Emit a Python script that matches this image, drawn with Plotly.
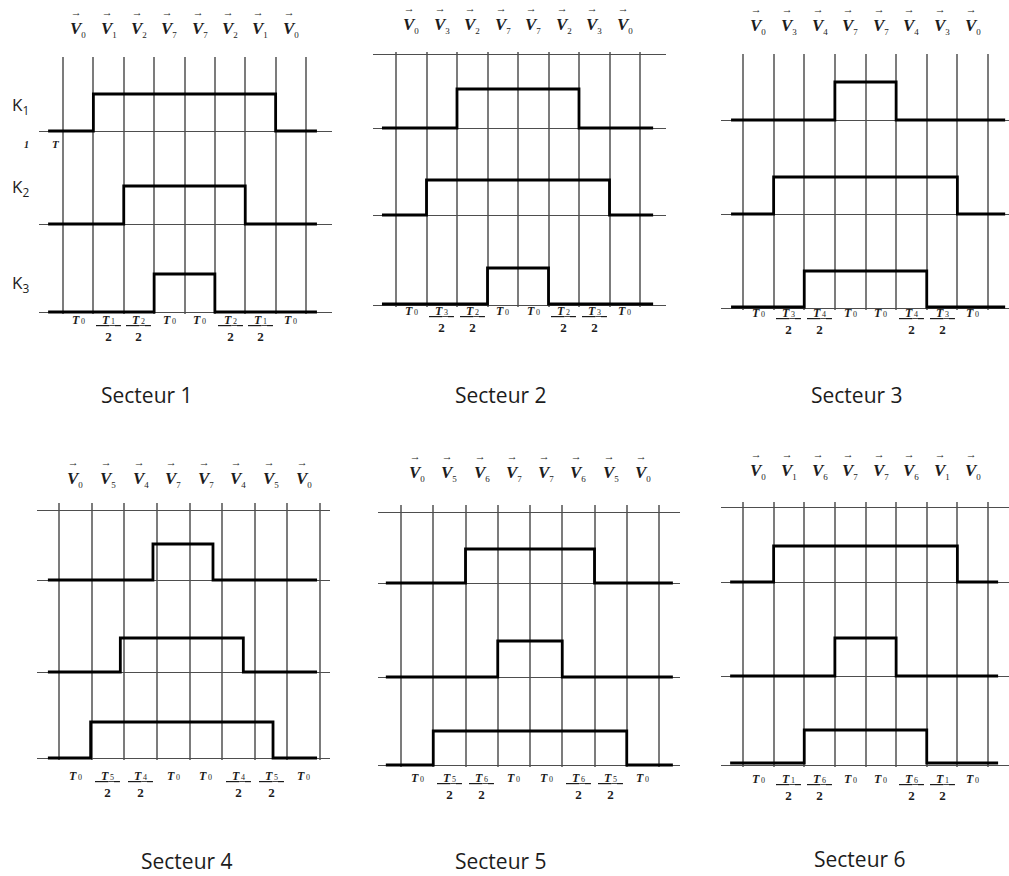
import plotly.graph_objects as go

W, H = 1009, 876

# ---------------- data ----------------
sector_names = ["Secteur 1", "Secteur 2", "Secteur 3", "Secteur 4", "Secteur 5", "Secteur 6"]
vector_seq = [
    [0, 1, 2, 7, 7, 2, 1, 0],
    [0, 3, 2, 7, 7, 2, 3, 0],
    [0, 3, 4, 7, 7, 4, 3, 0],
    [0, 5, 4, 7, 7, 4, 5, 0],
    [0, 5, 6, 7, 7, 6, 5, 0],
    [0, 1, 6, 7, 7, 6, 1, 0],
]
time_a = ["1", "3", "3", "5", "5", "1"]
time_b = ["2", "2", "4", "4", "6", "6"]
# switching instants (in grid-line units) of K1, K2, K3 for each sector
k1_on = [2, 3, 4, 3.88, 3, 2]
k1_off = [8, 7, 6, 5.72, 7, 8]
k2_on = [3, 2, 2, 2.88, 4, 4]
k2_off = [7, 8, 8, 6.65, 6, 6]
k3_on = [4, 4, 3, 1.97, 2, 3]
k3_off = [6, 6, 7, 7.56, 8, 7]
trace_start = [0.51, 0.54, 0.61, 0.66, 0.53, 0.58]
trace_end = [9.36, 9.43, 9.56, 8.91, 9.43, 9.33]
grid_lines = [1, 2, 3, 4, 5, 6, 7, 8, 9]
state_seq = [0, 0, 1, 1, 0, 0]
channel_names = ["K<sub>1</sub>", "K<sub>2</sub>", "K<sub>3</sub>"]

# ---------------- layout geometry (pixels) ----------------
panels = [
    dict(x0=39, x1=332, l1=63, l9=306, vtop=57, vbot=314, top=58, bot=312,
         bases=[131, 224, 312], amps=[37, 38, 38], vb=42, ty=311, cap=(147, 395)),
    dict(x0=373, x1=666, l1=396, l9=640, vtop=52, vbot=307, top=54, bot=305,
         bases=[128, 215, 304], amps=[39, 35, 36], vb=38, ty=302, cap=(501, 395)),
    dict(x0=721, x1=1009, l1=743, l9=988, vtop=54, vbot=310, top=55, bot=308,
         bases=[120, 214, 307], amps=[38, 37, 36], vb=39, ty=304, cap=(857, 395)),
    dict(x0=37, x1=330, l1=59, l9=320, vtop=503, vbot=760, top=510, bot=758,
         bases=[580, 672, 758], amps=[36, 34, 36], vb=492, ty=767, cap=(187, 861)),
    dict(x0=378, x1=680, l1=401, l9=659, vtop=505, vbot=767, top=512, bot=765,
         bases=[583, 677, 765], amps=[34, 36, 34], vb=486, ty=769, cap=(501, 861)),
    dict(x0=721, x1=1009, l1=743, l9=988, vtop=502, vbot=767, top=507, bot=765,
         bases=[582, 676, 763], amps=[36, 38, 33], vb=484, ty=770, cap=(860, 859)),
]

VGRID = "#7c7c7c"
HGRID = "#4e4e4e"
SERIF = "Liberation Serif"
SANS = "Open Sans"
TXT = "#1c1c1c"

fig = go.Figure()
layout = dict(width=W, height=H, margin=dict(l=0, r=0, t=0, b=0),
              paper_bgcolor="white", plot_bgcolor="rgba(0,0,0,0)", showlegend=False)
annotations = []


def py(px):
    return 1 - px / H


def vec_text(v):
    return ("<span style='font-size:11px'><b>\u2192</b></span>\u00a0<br>"
            "<span style='font-size:17px'><b><i>V</i></b>"
            "<sub><span style='font-size:9px'>%d</span></sub></span>" % v)


def t_text(sub):
    return ("<span style='font-size:12px'><b><i>T</i></b>"
            "<span style='font-size:8px'>\u2009%s</span></span>" % sub)


def frac_text(sub):
    return ("<span style='font-size:12px'><u>\u2002<b><i>T</i></b>"
            "<span style='font-size:8px'>\u2009%s</span>\u2002</u></span><br>"
            "<b>2</b>" % sub)


for i, g in enumerate(panels):
    n = i + 1
    sfx = "" if n == 1 else str(n)
    xa, ya = "x" + sfx, "y" + sfx
    s = (g["l9"] - g["l1"]) / 8.0

    def to_x(px, g=g, s=s):
        return 1 + (px - g["l1"]) / s

    hgt = g["vbot"] - g["vtop"]
    ons = [k1_on[i], k2_on[i], k3_on[i]]
    offs = [k1_off[i], k2_off[i], k3_off[i]]
    for k in range(3):
        xs = [trace_start[i], ons[k], ons[k], offs[k], offs[k], trace_end[i]]
        ys = [g["vbot"] - g["bases"][k] + st * g["amps"][k] for st in state_seq]
        fig.add_trace(go.Scatter(x=xs, y=ys, mode="lines",
                                 line=dict(color="#000000", width=2.8),
                                 xaxis=xa, yaxis=ya, hoverinfo="skip",
                                 showlegend=False))

    layout["xaxis" + sfx] = dict(
        domain=[g["x0"] / W, g["x1"] / W], range=[to_x(g["x0"]), to_x(g["x1"])],
        anchor=ya, tickmode="array", tickvals=grid_lines, showticklabels=False,
        showgrid=True, gridcolor=VGRID, gridwidth=1.5, zeroline=False,
        showline=False, ticks="", fixedrange=True)
    layout["yaxis" + sfx] = dict(
        domain=[py(g["vbot"]), py(g["vtop"])], range=[0, hgt], anchor=xa,
        tickmode="array",
        tickvals=[g["vbot"] - g["top"], g["vbot"] - g["bases"][0],
                  g["vbot"] - g["bases"][1], g["vbot"] - g["bot"]],
        showticklabels=False, showgrid=True, gridcolor=HGRID, gridwidth=1.4,
        zeroline=False, showline=False, ticks="", fixedrange=True)

    # space-vector sequence above the panel
    for j, v in enumerate(vector_seq[i]):
        annotations.append(dict(
            x=grid_lines[j] + 0.5, xref=xa, y=py(g["vb"]), yref="paper",
            text=vec_text(v), showarrow=False,
            xanchor="center", yanchor="bottom",
            font=dict(family=SERIF, size=14, color=TXT)))

    # durations below the panel
    names = ["0", time_a[i], time_b[i], "0", "0", time_b[i], time_a[i], "0"]
    frac = [False, True, True, False, False, True, True, False]
    for j in range(8):
        annotations.append(dict(
            x=grid_lines[j] + 0.5, xref=xa, y=py(g["ty"]), yref="paper",
            text=frac_text(names[j]) if frac[j] else t_text(names[j]),
            showarrow=False, xanchor="center", yanchor="top",
            font=dict(family=SERIF, size=13, color=TXT)))

    # sector caption
    annotations.append(dict(
        x=g["cap"][0] / W, xref="paper", y=py(g["cap"][1]), yref="paper",
        text=sector_names[i], showarrow=False, xanchor="center", yanchor="middle",
        font=dict(family=SANS, size=21, color=TXT)))

# channel names on the first panel
for k, yk in enumerate([105, 187, 283]):
    annotations.append(dict(
        x=10 / W, xref="paper", y=py(yk), yref="paper", text=channel_names[k],
        showarrow=False, xanchor="left", yanchor="middle",
        font=dict(family=SANS, size=17, color=TXT)))
# clipped fragment under K1
annotations.append(dict(
    x=22 / W, xref="paper", y=py(144), yref="paper", text="<b><i>1</i></b>",
    showarrow=False, xanchor="left", yanchor="middle",
    font=dict(family=SERIF, size=10, color=TXT)))
annotations.append(dict(
    x=50 / W, xref="paper", y=py(144), yref="paper", text="<b><i>T</i></b>",
    showarrow=False, xanchor="left", yanchor="middle",
    font=dict(family=SERIF, size=11, color=TXT)))

layout["annotations"] = annotations
fig.update_layout(**layout)
fig.write_html("out.html", config={"displayModeBar": False},
               post_script="document.body.style.margin='0';")
